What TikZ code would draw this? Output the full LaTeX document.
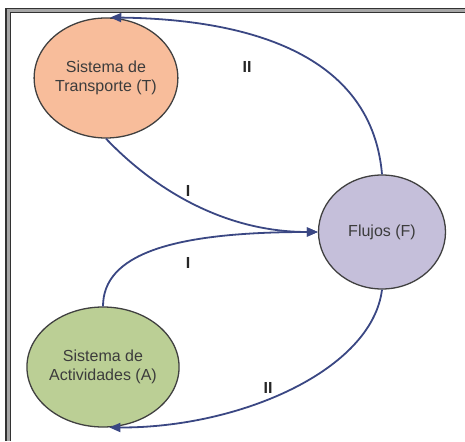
\documentclass[tikz,border=0pt]{standalone}
\usepackage{fontspec}
\setmainfont{Liberation Sans}
\usetikzlibrary{shapes.geometric,arrows.meta}
\definecolor{tfill}{HTML}{F8BD9B}
\definecolor{ffill}{HTML}{C5BFDA}
\definecolor{afill}{HTML}{BBCF95}
\definecolor{arrowc}{HTML}{3A4783}
\definecolor{txtc}{HTML}{3C3C3C}
\tikzset{
  sysnode/.style={ellipse, draw=black!75, line width=1.3pt, minimum width=134pt, minimum height=120pt, inner sep=0pt, align=center, text=txtc, font=\fontsize{16}{18.5}\selectfont},
  flow/.style={draw=arrowc, line width=1.8pt, -{Triangle[length=11pt,width=9pt]}},
  lbl/.style={font=\fontsize{16}{18}\selectfont\bfseries, text=black!85, inner sep=0pt},
  framel/.style={draw=black!80, line width=1.2pt, double=black!35, double distance=3pt}
}
\begin{document}
\begin{tikzpicture}[x=1pt,y=-1pt]
\useasboundingbox (0,0) rectangle (465,441);
\draw[framel] (8,441) -- (8,10.5) -- (465,10.5);
\node[sysnode, fill=tfill] (T) at (106,78) {Sistema de\\Transporte (T)};
\node[sysnode, fill=ffill, minimum width=127pt, minimum height=114pt] (F) at (382,232) {Flujos (F)};
\node[sysnode, fill=afill] (A) at (103,367) {Sistema de\\Actividades (A)};
\draw[flow] (F.north) .. controls (371,45) and (230,19) .. (T.86);
\draw[flow] (T.south) .. controls (150,185) and (220,232) .. (F.west);
\draw[flow] (A.north) .. controls (103,255) and (170,232) .. (F.west);
\draw[flow] (F.south) .. controls (372,370) and (240,428) .. (A.-84);
\node[lbl] (l1) at (247,67) {II};
\node[lbl] (l2) at (188,191) {I};
\node[lbl] (l3) at (188,263) {I};
\node[lbl] (l4) at (268,388) {II};
\end{tikzpicture}
\end{document}
